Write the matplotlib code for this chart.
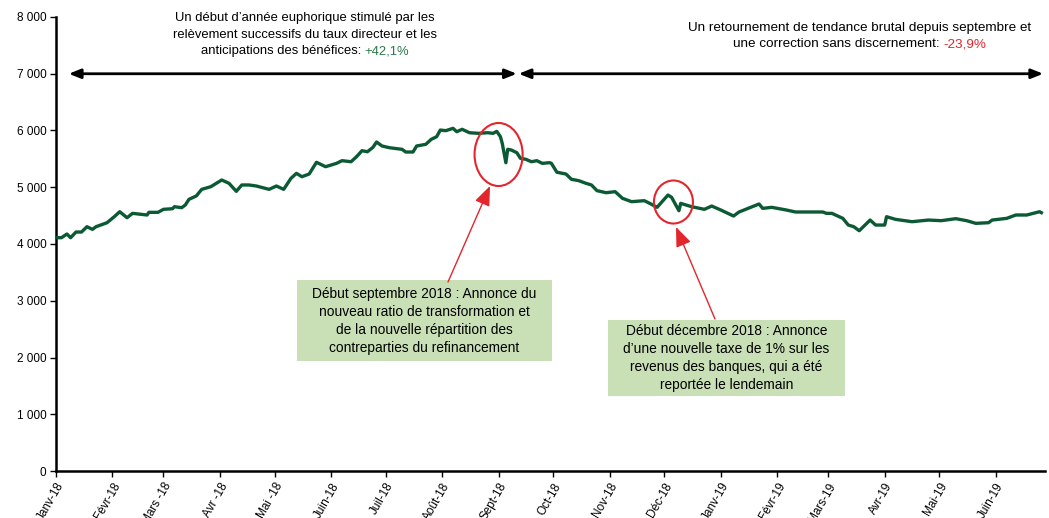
import matplotlib
matplotlib.use("Agg")
import matplotlib.pyplot as plt
import matplotlib.dates as mdates
from matplotlib.patches import Ellipse, Rectangle, FancyArrowPatch
from matplotlib.offsetbox import TextArea, HPacker, VPacker, AnnotationBbox
import datetime as dt

# ---------------- data ----------------
dates_str = [
    "2018-01-02", "2018-01-04", "2018-01-07", "2018-01-09", "2018-01-12", "2018-01-15",
    "2018-01-18", "2018-01-21", "2018-01-23", "2018-01-29", "2018-02-02", "2018-02-05",
    "2018-02-09", "2018-02-12", "2018-02-20", "2018-02-21", "2018-02-26", "2018-03-01",
    "2018-03-06", "2018-03-07", "2018-03-11", "2018-03-13", "2018-03-15", "2018-03-19",
    "2018-03-22", "2018-03-27", "2018-03-30", "2018-04-02", "2018-04-06", "2018-04-10",
    "2018-04-13", "2018-04-17", "2018-04-21", "2018-04-28", "2018-05-02", "2018-05-06",
    "2018-05-10", "2018-05-13", "2018-05-16", "2018-05-20", "2018-05-24", "2018-05-29",
    "2018-06-04", "2018-06-07", "2018-06-12", "2018-06-15", "2018-06-18", "2018-06-21",
    "2018-06-24", "2018-06-26", "2018-06-29", "2018-07-03", "2018-07-10", "2018-07-12",
    "2018-07-16", "2018-07-18", "2018-07-23", "2018-07-26", "2018-07-29", "2018-07-31",
    "2018-08-03", "2018-08-07", "2018-08-09", "2018-08-12", "2018-08-16", "2018-08-21",
    "2018-08-26", "2018-08-29", "2018-08-31", "2018-09-02", "2018-09-03", "2018-09-05",
    "2018-09-06", "2018-09-08", "2018-09-11", "2018-09-13", "2018-09-16", "2018-09-19",
    "2018-09-22", "2018-09-25", "2018-09-29", "2018-09-30", "2018-10-03", "2018-10-08",
    "2018-10-11", "2018-10-15", "2018-10-19", "2018-10-22", "2018-10-25", "2018-10-30",
    "2018-11-04", "2018-11-08", "2018-11-13", "2018-11-20", "2018-11-23", "2018-11-27",
    "2018-12-03", "2018-12-05", "2018-12-09", "2018-12-10", "2018-12-16", "2018-12-23",
    "2018-12-27", "2019-01-01", "2019-01-08", "2019-01-11", "2019-01-16", "2019-01-22",
    "2019-01-24", "2019-01-29", "2019-02-06", "2019-02-11", "2019-02-26", "2019-02-28",
    "2019-03-03", "2019-03-09", "2019-03-12", "2019-03-15", "2019-03-18", "2019-03-24",
    "2019-03-27", "2019-04-01", "2019-04-02", "2019-04-07", "2019-04-16", "2019-04-25",
    "2019-05-02", "2019-05-10", "2019-05-16", "2019-05-21", "2019-05-28", "2019-05-30",
    "2019-06-07", "2019-06-12", "2019-06-18", "2019-06-23", "2019-06-25", "2019-06-26",
]
values = [
    4111, 4111, 4176, 4111, 4211, 4211,
    4305, 4258, 4305, 4375, 4481, 4569,
    4463, 4540, 4511, 4558, 4558, 4611,
    4622, 4657, 4640, 4687, 4787, 4846,
    4963, 5010, 5069, 5128, 5069, 4928,
    5040, 5040, 5022, 4963, 5022, 4963,
    5157, 5245, 5186, 5233, 5440, 5362,
    5421, 5468, 5450, 5538, 5644, 5626,
    5703, 5797, 5727, 5697, 5668, 5621,
    5621, 5727, 5756, 5844, 5891, 6008,
    5997, 6038, 5979, 6021, 5961, 5950,
    5961, 5950, 5985, 5891, 5774, 5432,
    5668, 5656, 5609, 5510, 5492, 5450,
    5468, 5421, 5433, 5421, 5265, 5233,
    5140, 5116, 5069, 5040, 4940, 4904,
    4922, 4805, 4746, 4763, 4716, 4646,
    4863, 4822, 4587, 4716, 4657, 4611,
    4669, 4599, 4493, 4564, 4628, 4705,
    4628, 4646, 4599, 4564, 4564, 4540,
    4540, 4452, 4334, 4305, 4234, 4422,
    4334, 4334, 4481, 4434, 4393, 4422,
    4411, 4446, 4411, 4364, 4375, 4422,
    4452, 4511, 4511, 4552, 4569, 4552,
]
month_labels = ["Janv-18", "Févr-18", "Mars -18", "Avr -18", "Mai -18", "Juin-18",
                "Juil-18", "Août-18", "Sept-18", "Oct-18", "Nov-18", "Déc-18",
                "Janv-19", "Févr-19", "Mars-19", "Avr-19", "Mai-19", "Juin-19"]
y_ticks = [0, 1000, 2000, 3000, 4000, 5000, 6000, 7000, 8000]

# ---------------- styling ----------------
plt.rcParams['font.family'] = ['Liberation Sans', 'DejaVu Sans']
GREEN = "#0B5A34"
RED = "#E3262D"
BOX = "#C9DFB6"

W, H = 1049, 518
fig = plt.figure(figsize=(W / 100, H / 100), dpi=100)
fig.patch.set_facecolor("white")


def fx(x):
    return x / W


def fy(y):
    return 1 - y / H


ax = fig.add_axes([fx(56), 47 / H, (1045 - 56) / W, (471 - 17) / H])

dates = [dt.datetime.strptime(s, "%Y-%m-%d") for s in dates_str]
ax.plot(dates, values, color=GREEN, lw=2.4, solid_joinstyle="round", zorder=3)

ax.set_ylim(0, 8000)
ax.set_yticks(y_ticks)
ax.set_yticklabels([f"{v:,.0f}".replace(",", " ") for v in y_ticks], fontsize=8.5)

start = dt.datetime(2018, 1, 1)
ax.set_xlim(start, dt.datetime(2019, 6, 28))
month_starts = [dt.datetime(2018 + (i // 12), i % 12 + 1, 1) for i in range(len(month_labels))]
ax.set_xticks(month_starts)
ax.set_xticklabels(month_labels, rotation=60, ha="right", rotation_mode="anchor", fontsize=8.5)

for s in ["top", "right"]:
    ax.spines[s].set_visible(False)
for s in ["left", "bottom"]:
    ax.spines[s].set_linewidth(1.8)
    ax.spines[s].set_color("black")
ax.tick_params(axis="both", direction="out", length=4, width=1, colors="black", pad=3)

# ---------------- double arrows at 7000 ----------------
arrow_kw = dict(arrowstyle="<|-|>,head_length=0.7,head_width=0.28", color="black", lw=2.0,
                shrinkA=0, shrinkB=0)
ax.annotate("", xy=(dt.datetime(2018, 9, 11), 7000), xytext=(dt.datetime(2018, 1, 8), 7000),
            arrowprops=arrow_kw, annotation_clip=False)
ax.annotate("", xy=(dt.datetime(2019, 6, 27), 7000), xytext=(dt.datetime(2018, 9, 12), 7000),
            arrowprops=arrow_kw, annotation_clip=False)


# ---------------- top texts with coloured parts ----------------
def mixed_text(lines, x, y, fontsize=9.2, sep=3.6):
    rows = []
    for parts in lines:
        areas = [TextArea(s, textprops=dict(color=c, fontsize=fontsize)) for s, c in parts]
        rows.append(HPacker(children=areas, align="baseline", pad=0, sep=2.6))
    vp = VPacker(children=rows, align="center", pad=0, sep=sep)
    ab = AnnotationBbox(vp, (fx(x), fy(y)), xycoords="figure fraction", frameon=False,
                        box_alignment=(0.5, 1.0), pad=0, annotation_clip=False)
    fig.add_artist(ab)


mixed_text([[("Un début d’année euphorique stimulé par les", "black")],
            [("relèvement successifs du taux directeur et les", "black")],
            [("anticipations des bénéfices:", "black"), ("+42,1%", "#2A7A4B")]],
           305, 12, fontsize=9.4, sep=3.4)
mixed_text([[("Un retournement de tendance brutal depuis septembre et", "black")],
            [("une correction sans discernement:", "black"), ("-23,9%", RED)]],
           860, 22, fontsize=9.7, sep=3.2)

# ---------------- callout boxes ----------------
fig.add_artist(Rectangle((fx(297), fy(361)), fx(552) - fx(297), fy(280) - fy(361),
                         transform=fig.transFigure, facecolor=BOX, edgecolor="none"))
fig.text(fx(424.5), fy(321), "Début septembre 2018 : Annonce du\nnouveau ratio de transformation et\n"
         "de la nouvelle répartition des\ncontreparties du refinancement",
         ha="center", va="center", fontsize=9.9, linespacing=1.35)
fig.add_artist(Rectangle((fx(608), fy(396)), fx(845) - fx(608), fy(320) - fy(396),
                         transform=fig.transFigure, facecolor=BOX, edgecolor="none"))
fig.text(fx(726.5), fy(358), "Début décembre 2018 : Annonce\nd’une nouvelle taxe de 1% sur les\n"
         "revenus des banques, qui a été\nreportée le lendemain",
         ha="center", va="center", fontsize=9.9, linespacing=1.35)

# ---------------- red circles ----------------
e1 = Ellipse((mdates.date2num(dt.datetime(2018, 9, 1)), 5577), width=26.4, height=1110,
             fill=False, edgecolor=RED, lw=1.5, zorder=4)
e2 = Ellipse((mdates.date2num(dt.datetime(2018, 12, 6)), 4740), width=21.4, height=758,
             fill=False, edgecolor=RED, lw=1.5, zorder=4)
ax.add_patch(e1)
ax.add_patch(e2)

red_kw = dict(arrowstyle="-|>,head_length=1.0,head_width=0.4", color=RED, lw=1.0,
              shrinkA=0, shrinkB=0, mutation_scale=12)
fig.add_artist(FancyArrowPatch((fx(448), fy(282)), (fx(490), fy(186)),
                               transform=fig.transFigure, **red_kw))
fig.add_artist(FancyArrowPatch((fx(715), fy(319)), (fx(676), fy(227)),
                               transform=fig.transFigure, **red_kw))

fig.savefig("out.png", dpi=100, facecolor="white")
